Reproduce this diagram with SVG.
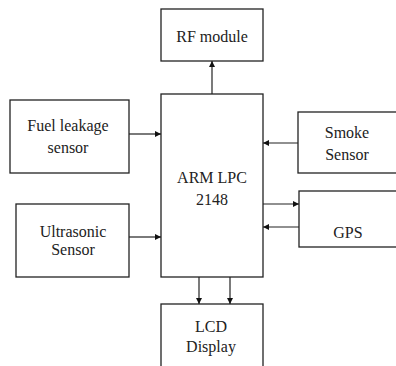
<svg xmlns="http://www.w3.org/2000/svg" width="396" height="366" viewBox="0 0 396 366">
<style>
.box{fill:#fff;stroke:#222;stroke-width:1.3}
text{font-family:'Liberation Serif','Times New Roman','DejaVu Serif',serif;font-size:16px;fill:#222;text-anchor:middle}
.c{stroke:#222;stroke-width:1.2;fill:none;marker-end:url(#ah)}
</style>
<defs>
<marker id="ah" viewBox="0 0 10 10" refX="10" refY="5" markerWidth="6" markerHeight="6" markerUnits="userSpaceOnUse" orient="auto">
<path d="M0,0 L10,5 L0,10 z" fill="#111"/>
</marker>
</defs>
<rect width="396" height="366" fill="#fff"/>
<g id="rf"><rect class="box" x="161" y="9" width="102" height="52"/><text x="212" y="42" font-size="17">RF module</text></g>
<g id="arm"><rect class="box" x="161" y="94" width="102" height="183"/><text x="212" y="183">ARM LPC</text><text x="212" y="205">2148</text></g>
<g id="fuel"><rect class="box" x="10" y="100" width="119" height="73"/><text x="68" y="131">Fuel leakage</text><text x="68" y="153">sensor</text></g>
<g id="ultra"><rect class="box" x="16" y="204" width="113" height="73"/><text x="73" y="237">Ultrasonic</text><text x="73" y="255">Sensor</text></g>
<g id="smoke"><rect class="box" x="298" y="112" width="100" height="61"/><text x="347" y="138">Smoke</text><text x="347" y="160">Sensor</text></g>
<g id="gps"><rect class="box" x="299" y="191" width="99" height="56"/><text x="348" y="238">GPS</text></g>
<g id="lcd"><rect class="box" x="161" y="304" width="102" height="64"/><text x="211" y="332">LCD</text><text x="211" y="352">Display</text></g>
<g id="connectors">
<path class="c" d="M212,94 V61"/>
<path class="c" d="M129,134 H161"/>
<path class="c" d="M129,237 H161"/>
<path class="c" d="M298,143 H263"/>
<path class="c" d="M263,204 H299"/>
<path class="c" d="M299,227 H263"/>
<path class="c" d="M199,277 V304"/>
<path class="c" d="M230,277 V304"/>
</g>
</svg>
